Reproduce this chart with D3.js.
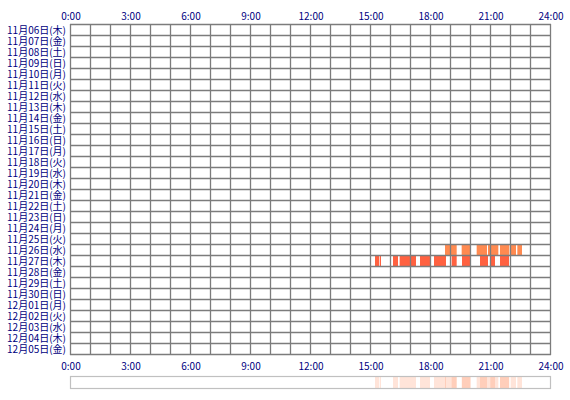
<!DOCTYPE html>
<html>
<head>
<meta charset="utf-8">
<script src="https://cdn.jsdelivr.net/npm/d3@7"></script>
<style>
  body { margin: 0; background: #fff; }
  text { font-family: "Noto Sans CJK JP", sans-serif; font-size: 10px; fill: #000080; }
</style>
</head>
<body>
<script>
// 日付ラベル(行)
var dayLabels = [
  "11月06日(木)", "11月07日(金)", "11月08日(土)", "11月09日(日)", "11月10日(月)",
  "11月11日(火)", "11月12日(水)", "11月13日(木)", "11月14日(金)", "11月15日(土)",
  "11月16日(日)", "11月17日(月)", "11月18日(火)", "11月19日(水)", "11月20日(木)",
  "11月21日(金)", "11月22日(土)", "11月23日(日)", "11月24日(月)", "11月25日(火)",
  "11月26日(水)", "11月27日(木)", "11月28日(金)", "11月29日(土)", "11月30日(日)",
  "12月01日(月)", "12月02日(火)", "12月03日(水)", "12月04日(木)", "12月05日(金)"
];
var tickLabels = ["0:00", "3:00", "6:00", "9:00", "12:00", "15:00", "18:00", "21:00", "24:00"];

// 活動時間帯 [開始, 終了]
var nov26 = [
  ["18:45", "19:20"], ["19:35", "20:03"], ["20:20", "20:51"], ["20:54", "21:25"],
  ["21:30", "21:58"], ["22:02", "22:18"], ["22:22", "22:36"]
];
var nov27 = [
  ["15:15", "15:28"], ["15:30", "15:33"], ["16:09", "16:24"], ["16:29", "17:18"],
  ["17:30", "18:00"], ["18:12", "18:48"], ["19:05", "19:20"], ["19:36", "20:00"],
  ["20:30", "20:54"], ["21:01", "21:15"], ["21:30", "21:57"]
];
var activity = [
  { day: "11月26日(水)", color: "#ff8a50", spans: nov26 },
  { day: "11月27日(木)", color: "#ff6140", spans: nov27 }
];

function toMin(s) { var p = s.split(":"); return +p[0] * 60 + +p[1]; }

var width = 570, height = 400;
var x = d3.scaleLinear().domain([0, 24 * 60]).range([70, 550]);
var y = d3.scaleBand().domain(dayLabels).range([24, 354]);

var svg = d3.select("body").append("svg")
    .attr("width", width)
    .attr("height", height);

/** 棒 */
activity.forEach(function (a) {
  svg.append("g").selectAll("rect")
    .data(a.spans).enter().append("rect")
    .attr("x", function (d) { return x(toMin(d[0])); })
    .attr("width", function (d) { return x(toMin(d[1])) - x(toMin(d[0])); })
    .attr("y", y(a.day))
    .attr("height", y.bandwidth())
    .attr("fill", a.color);
});

/** グリッド */
var grid = svg.append("g").attr("stroke", "#7c7c7c").attr("stroke-width", 1.3);
grid.selectAll("line.v").data(d3.range(0, 25)).enter().append("line")
  .attr("x1", function (h) { return x(h * 60) + 0.5; })
  .attr("x2", function (h) { return x(h * 60) + 0.5; })
  .attr("y1", 24).attr("y2", 355);
grid.selectAll("line.h").data(d3.range(0, dayLabels.length + 1)).enter().append("line")
  .attr("x1", 70).attr("x2", 551)
  .attr("y1", function (i) { return 24 + i * y.step() + 0.5; })
  .attr("y2", function (i) { return 24 + i * y.step() + 0.5; });

/** 行ラベル */
svg.append("g").selectAll("text")
  .data(dayLabels).enter().append("text")
  .attr("x", 66)
  .attr("y", function (d) { return y(d) + y.bandwidth() / 2 + 1; })
  .attr("dy", "0.35em")
  .attr("text-anchor", "end")
  .text(function (d) { return d; });

/** 時刻ラベル(上・下) */
[16, 366].forEach(function (ty) {
  svg.append("g").selectAll("text")
    .data(tickLabels).enter().append("text")
    .attr("x", function (d, i) { return x(i * 180) + 1; })
    .attr("y", ty)
    .attr("dy", "0.35em")
    .attr("text-anchor", "middle")
    .text(function (d) { return d; });
});

/** 集計帯 */
var strip = svg.append("g");
activity.forEach(function (a) {
  strip.append("g").selectAll("rect")
    .data(a.spans).enter().append("rect")
    .attr("x", function (d) { return x(toMin(d[0])); })
    .attr("width", function (d) { return x(toMin(d[1])) - x(toMin(d[0])); })
    .attr("y", 377)
    .attr("height", 11)
    .attr("fill", "#ff7a40")
    .attr("fill-opacity", 0.2);
});
strip.append("rect")
  .attr("x", 70.5).attr("y", 376.5)
  .attr("width", 480).attr("height", 12)
  .attr("fill", "none")
  .attr("stroke", "#c0c0c0")
  .attr("stroke-width", 1.2);
</script>
</body>
</html>
